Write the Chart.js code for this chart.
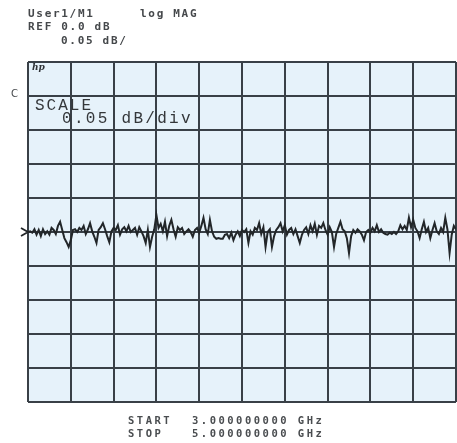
<!DOCTYPE html>
<html>
<head>
<meta charset="utf-8">
<title>log MAG 3–5 GHz</title>
<script src="https://cdn.jsdelivr.net/npm/chart.js@4.4.1/dist/chart.umd.min.js"></script>
<style>
  html, body { margin: 0; padding: 0; background: #ffffff; }
  #wrap { position: relative; width: 457px; height: 443px; overflow: hidden; }
  #wrap canvas { position: absolute; left: 0; top: 0; }
  .t { position: absolute; line-height: 1; white-space: pre; color: #3b3d40; }
  .hdr { font-family: "DejaVu Sans Mono", monospace; font-size: 11px; font-weight: bold; letter-spacing: 1.7px; color: #45484b; }
  .ftr { font-family: "DejaVu Sans Mono", monospace; font-size: 10.5px; font-weight: bold; letter-spacing: 2.5px; color: #4a4d50; }
  .big { font-family: "Liberation Mono", monospace; font-size: 16px; color: #34373a; }
  .chan { font-family: "DejaVu Sans", sans-serif; font-size: 10px; color: #45484b; }
  .logo { font-family: "DejaVu Serif", serif; font-size: 9px; font-style: italic; font-weight: bold; color: #2f3236; }
</style>
</head>
<body>
<div id="wrap">
  <canvas id="c" width="457" height="443" style="width:457px;height:443px"></canvas>

  <div class="t hdr" style="left:28px;top:8px">User1/M1</div>
  <div class="t hdr" style="left:140px;top:8px">log MAG</div>
  <div class="t hdr" style="left:28px;top:21px">REF 0.0 dB</div>
  <div class="t hdr" style="left:61px;top:35px">0.05 dB/</div>

  <div class="t chan" style="left:11px;top:89px">C</div>
  <div class="t logo" style="left:32px;top:63px">hp</div>

  <div class="t big" style="left:35px;top:98px;letter-spacing:2px">SCALE</div>
  <div class="t big" style="left:62px;top:111px;letter-spacing:2.3px">0.05 dB/div</div>

  <div class="t ftr" style="left:128px;top:415px">START</div>
  <div class="t ftr" style="left:192px;top:415px">3.000000000 GHz</div>
  <div class="t ftr" style="left:128px;top:428px">STOP</div>
  <div class="t ftr" style="left:192px;top:428px">5.000000000 GHz</div>
</div>

<script>
// Sweep settings
const startGHz = 3.0;
const stopGHz = 5.0;
const refLevelDb = 0.0;

// Graticule: 10 horizontal and 10 vertical divisions
const xTickValues = [3.0, 3.2, 3.4, 3.6, 3.8, 4.0, 4.2, 4.4, 4.6, 4.8, 5.0];
const yTickValues = [-0.25, -0.20, -0.15, -0.10, -0.05, 0.0, 0.05, 0.10, 0.15, 0.20, 0.25];

// Measured magnitude, dB, 201 sweep points
const traceDb = [
  0.000, 0.001, -0.001, 0.004, -0.004, 0.003, -0.006, 0.004, -0.003, 0.001,
  -0.004, 0.006, 0.003, -0.003, 0.009, 0.015, 0.003, -0.009, -0.015, -0.022,
  -0.012, 0.003, 0.004, 0.000, 0.006, 0.003, 0.009, -0.003, 0.004, 0.013,
  0.001, -0.007, -0.016, 0.003, 0.007, 0.013, 0.004, -0.006, -0.015, 0.001,
  0.006, 0.003, 0.010, -0.004, 0.004, 0.007, 0.001, 0.009, 0.000, 0.003,
  0.006, -0.004, 0.007, 0.001, -0.006, -0.016, 0.003, -0.022, -0.007, 0.004,
  0.025, 0.006, 0.012, 0.001, 0.015, -0.006, 0.009, 0.018, 0.004, -0.007,
  0.007, 0.003, 0.006, -0.003, 0.001, 0.004, 0.000, -0.007, 0.003, 0.006,
  -0.001, 0.009, 0.021, 0.004, -0.003, 0.018, 0.001, -0.007, -0.010, -0.009,
  -0.010, -0.010, -0.004, -0.003, -0.009, -0.001, -0.012, -0.004, 0.001, -0.006,
  0.003, 0.000, 0.004, -0.016, 0.001, -0.004, 0.006, 0.003, 0.013, -0.003,
  0.007, -0.022, 0.000, 0.004, -0.022, -0.006, 0.003, 0.007, 0.013, 0.001,
  0.010, -0.004, 0.003, 0.006, -0.003, 0.004, -0.006, -0.016, -0.004, 0.003,
  0.007, -0.003, 0.010, 0.001, 0.012, -0.004, 0.009, 0.006, 0.013, 0.003,
  -0.004, 0.007, 0.000, -0.022, -0.003, 0.006, 0.015, 0.004, 0.001, -0.009,
  -0.031, -0.006, 0.003, -0.001, 0.004, 0.001, -0.004, -0.012, 0.000, 0.003,
  -0.001, 0.006, 0.001, 0.010, 0.000, 0.004, -0.001, -0.003, -0.004, -0.001,
  -0.003, 0.000, -0.003, 0.001, 0.010, 0.004, 0.009, 0.003, 0.021, 0.007,
  0.018, 0.006, 0.001, -0.009, 0.004, 0.015, 0.000, 0.006, -0.009, 0.003,
  0.013, 0.001, -0.003, 0.006, 0.000, 0.021, 0.004, -0.031, -0.004, 0.009,
  0.004
];

// Sweep points are evenly spaced between start and stop
const freqGHz = traceDb.map((_, i) => startGHz + i * (stopGHz - startGHz) / (traceDb.length - 1));

const gridColor = '#394047';
const screenColor = '#e6f2fa';
const traceColor = '#222629';

// Light screen behind the graticule
const screenFill = {
  id: 'screenFill',
  beforeDraw(chart) {
    const { ctx, chartArea: a } = chart;
    ctx.save();
    ctx.fillStyle = screenColor;
    ctx.fillRect(a.left, a.top, a.right - a.left, a.bottom - a.top);
    ctx.restore();
  }
};

// Reference-position arrow on the left edge
const refMarker = {
  id: 'refMarker',
  afterDatasetsDraw(chart) {
    const { ctx, chartArea: a, scales } = chart;
    const y = scales.y.getPixelForValue(refLevelDb);
    ctx.save();
    ctx.strokeStyle = traceColor;
    ctx.lineWidth = 1.8;
    ctx.beginPath();
    ctx.moveTo(a.left - 7, y - 4);
    ctx.lineTo(a.left, y);
    ctx.lineTo(a.left - 7, y + 4);
    ctx.stroke();
    ctx.restore();
  }
};

const tickSetter = values => scale => { scale.ticks = values.map(v => ({ value: v })); };

new Chart(document.getElementById('c'), {
  type: 'line',
  data: {
    datasets: [{
      data: traceDb.map((v, i) => ({ x: freqGHz[i], y: v })),
      borderColor: traceColor,
      borderWidth: 2,
      pointRadius: 0,
      tension: 0,
      fill: false
    }]
  },
  options: {
    responsive: false,
    animation: false,
    devicePixelRatio: 1,
    layout: { padding: { left: 28, right: 1, top: 62, bottom: 41 } },
    plugins: { legend: { display: false }, tooltip: { enabled: false } },
    scales: {
      x: {
        type: 'linear',
        min: startGHz,
        max: stopGHz,
        afterBuildTicks: tickSetter(xTickValues),
        afterFit: s => { s.height = 0; },
        ticks: { display: false },
        grid: { color: gridColor, lineWidth: 2, drawTicks: false },
        border: { display: false }
      },
      y: {
        type: 'linear',
        min: yTickValues[0],
        max: yTickValues[yTickValues.length - 1],
        afterBuildTicks: tickSetter(yTickValues),
        afterFit: s => { s.width = 0; },
        ticks: { display: false },
        grid: { color: gridColor, lineWidth: 2, drawTicks: false },
        border: { display: false }
      }
    }
  },
  plugins: [screenFill, refMarker]
});
</script>
</body>
</html>
